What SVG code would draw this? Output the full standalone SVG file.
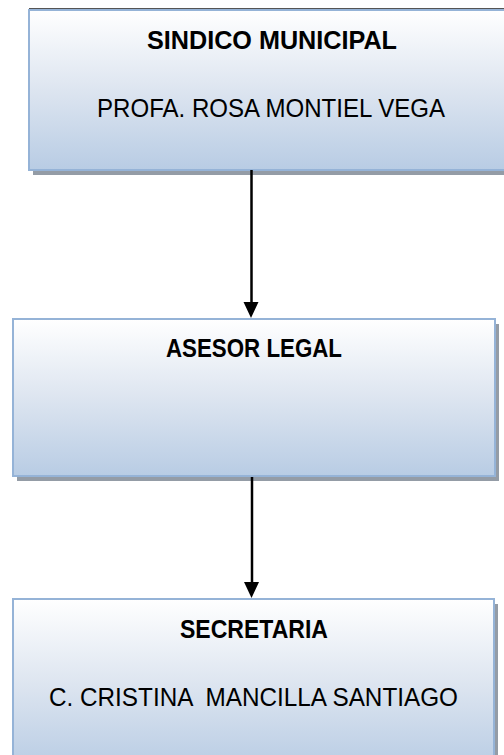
<svg xmlns="http://www.w3.org/2000/svg" width="504" height="755" viewBox="0 0 504 755">
  <defs>
    <linearGradient id="boxGrad" x1="0" y1="0" x2="0" y2="1">
      <stop offset="0" stop-color="#ffffff"/>
      <stop offset="0.5" stop-color="#dde5f0"/>
      <stop offset="1" stop-color="#b8cce4"/>
    </linearGradient>
  </defs>
  <style>
    .shadow { fill: #949ca6; }
    .box { fill: url(#boxGrad); stroke: #95b3d7; stroke-width: 2; }
    .title { font-family: "Liberation Sans", Arial, sans-serif; font-weight: bold; font-size: 25px; fill: #000; text-anchor: middle; }
    .name { font-family: "Liberation Sans", Arial, sans-serif; font-size: 25px; fill: #000; text-anchor: middle; white-space: pre; }
    .conn { stroke: #000; stroke-width: 2.5; fill: none; }
    .head { fill: #000; }
  </style>
  <rect width="504" height="755" fill="#ffffff"/>

  <g id="node-sindico">
    <line x1="29" y1="8.5" x2="504" y2="8.5" stroke="#555" stroke-width="1"/>
    <rect class="shadow" x="33" y="15" width="490" height="160"/>
    <rect class="box" x="29" y="10" width="490" height="160"/>
    <text class="title" x="272" y="49" textLength="250" lengthAdjust="spacingAndGlyphs">SINDICO MUNICIPAL</text>
    <text class="name" x="271" y="117" textLength="348" lengthAdjust="spacingAndGlyphs">PROFA. ROSA MONTIEL VEGA</text>
  </g>

  <g id="node-asesor">
    <rect class="shadow" x="17" y="324" width="482" height="157"/>
    <rect class="box" x="13" y="319" width="482" height="157"/>
    <text class="title" x="254" y="357" textLength="176" lengthAdjust="spacingAndGlyphs">ASESOR LEGAL</text>
  </g>

  <g id="node-secretaria">
    <rect class="shadow" x="17" y="604" width="481" height="170"/>
    <rect class="box" x="13" y="599" width="481" height="170"/>
    <text class="title" x="254" y="638" textLength="148" lengthAdjust="spacingAndGlyphs">SECRETARIA</text>
    <text class="name" x="253.5" y="706" textLength="409" lengthAdjust="spacingAndGlyphs">C. CRISTINA  MANCILLA SANTIAGO</text>
  </g>

  <g id="connectors">
    <line class="conn" x1="251.5" y1="170" x2="251.5" y2="304"/>
    <polygon class="head" points="243.5,302 258.5,302 251,318"/>
    <line class="conn" x1="252" y1="477" x2="252" y2="584"/>
    <polygon class="head" points="244,582 259,582 251.5,598"/>
  </g>
</svg>
